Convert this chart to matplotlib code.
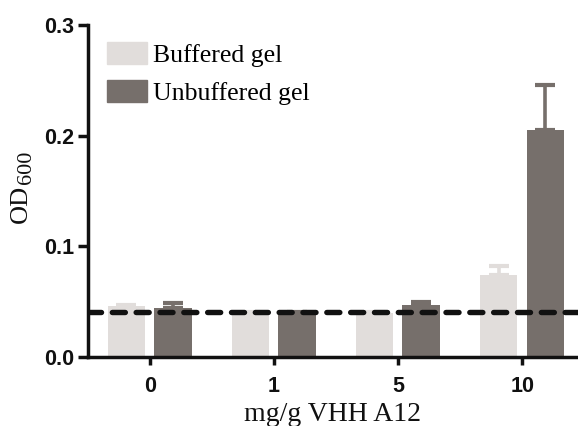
import matplotlib
matplotlib.use('Agg')
import matplotlib.pyplot as plt
import numpy as np
from matplotlib.patches import Patch

doses = ['0', '1', '5', '10']
buffered = [0.046, 0.040, 0.040, 0.074]
buffered_err = [0.001, 0.001, 0.001, 0.008]
unbuffered = [0.044, 0.040, 0.047, 0.205]
unbuffered_err = [0.005, 0.001, 0.003, 0.041]
baseline = 0.041

light = '#e1dddb'
dark = '#766f6b'

f = plt.figure(figsize=(5.78, 4.26), dpi=100)
ax = f.add_axes([0.1522, 0.162, 0.8478, 0.7793])

x = np.arange(len(doses))
w = 0.30
ekw = {'elinewidth': 2.6, 'capsize': 7, 'capthick': 3, 'solid_capstyle': 'round'}
ax.bar(x - 0.19, buffered, w, color=light, zorder=2,
       yerr=[np.zeros(4), buffered_err], error_kw=dict(ekw, ecolor=light))
ax.bar(x + 0.185, unbuffered, w, color=dark, zorder=2,
       yerr=[np.zeros(4), unbuffered_err], error_kw=dict(ekw, ecolor=dark))

ax.axhline(baseline, color='#111111', lw=3.9, linestyle=(0, (2.4, 2.0)), dash_capstyle='round', zorder=3)

ax.set_xlim(-0.5, 3.45)
ax.set_ylim(0, 0.3)
ax.set_xticks(x)
ax.set_xticklabels(doses)
ax.set_yticks([0.0, 0.1, 0.2, 0.3])
ax.set_yticklabels(['0.0', '0.1', '0.2', '0.3'])
for lab in ax.get_xticklabels() + ax.get_yticklabels():
    lab.set_fontfamily('Liberation Sans')
    lab.set_fontweight('bold')
    lab.set_fontsize(15.5)
    lab.set_color('#111111')

ax.spines['right'].set_color('none')
ax.spines['top'].set_color('none')
for s in ['left', 'bottom']:
    ax.spines[s].set_linewidth(2.5)
    ax.spines[s].set_color('#111111')
ax.tick_params(axis='y', width=2.5, length=7, pad=3, color='#111111')
ax.tick_params(axis='x', width=2.5, length=6, pad=8, color='#111111')

ax.set_xlabel('mg/g VHH A12', fontfamily='Liberation Serif', fontsize=20, labelpad=3, color='#111111')

# y label: OD with a smaller 600
f.text(21 / 578, 203 / 426, 'OD', rotation=90, ha='center', va='bottom',
       fontfamily='Liberation Serif', fontsize=19, color='#111111')
f.text(27 / 578, 242 / 426, '600', rotation=90, ha='center', va='bottom',
       fontfamily='Liberation Serif', fontsize=16, color='#111111')

handles = [Patch(color=light, label='Buffered gel'), Patch(color=dark, label='Unbuffered gel')]
leg = ax.legend(handles=handles, loc='upper left', bbox_to_anchor=(0.039, 0.95), frameon=False,
                prop={'family': 'Liberation Serif', 'size': 18.5}, borderpad=0, borderaxespad=0,
                handlelength=1.55, handleheight=0.95, handletextpad=0.25, labelspacing=0.52)

f.savefig('out.png', dpi=100)
